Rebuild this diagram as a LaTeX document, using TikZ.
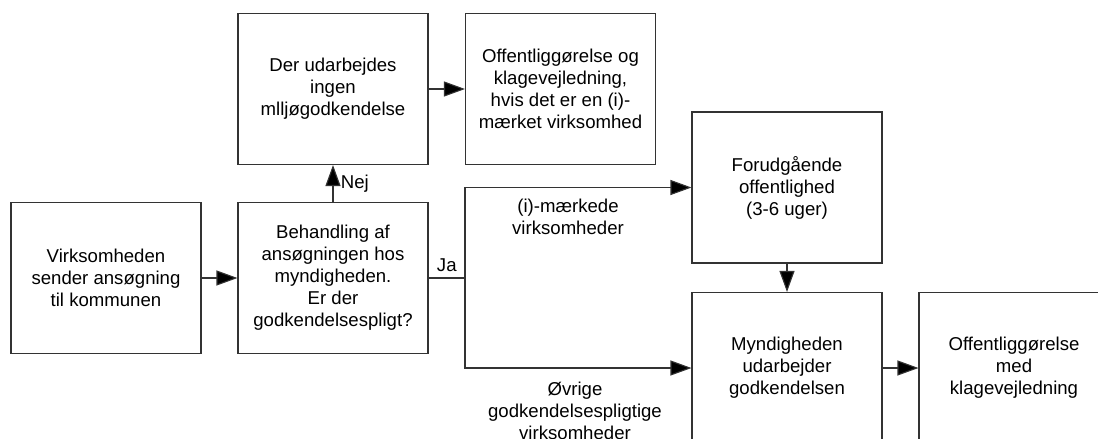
\documentclass[tikz,border=0pt]{standalone}
\usepackage{fontspec}
\setmainfont{Liberation Sans}
\usetikzlibrary{arrows.meta}
\begin{document}
\begin{tikzpicture}[x=1pt,y=-1pt,
  every node/.style={font=\fontsize{18.6}{22}\selectfont, align=center},
  stepbox/.style={draw=black!80, line width=1.1pt, minimum width=190pt, minimum height=151pt, inner sep=0pt},
  flow/.style={draw=black!80, line width=1.1pt, -{Triangle[length=21pt,width=15pt,fill=black]}},
  link/.style={draw=black!80, line width=1.1pt}]
\clip (0,0) rectangle (1098,439);
\useasboundingbox (0,0) rectangle (1098,439);
\fill[white] (0,0) rectangle (1098,439);

\node[stepbox] (start) at (106,278) {Virksomheden\\sender ansøgning\\til kommunen};
\node[stepbox] (review) at (333,278) {Behandling af\\ansøgningen hos\\myndigheden.\\Er der\\godkendelsespligt?};
\node[stepbox] (none) at (333,89) {Der udarbejdes\\ingen\\mlljøgodkendelse};
\node[stepbox] (notice) at (560.5,89) {Offentliggørelse og\\klagevejledning,\\hvis det er en (i)-\\mærket virksomhed};
\node[stepbox] (public) at (787,187.5) {Forudgående\\offentlighed\\(3-6 uger)};
\node[stepbox] (decide) at (787,368) {Myndigheden\\udarbejder\\godkendelsen};
\node[stepbox] (publish) at (1014,368) {Offentliggørelse\\med\\klagevejledning};

\coordinate (split) at (465,278);

\draw[flow] (start) -- (review);
\draw[flow] (review) -- (none) node[pos=0.5, right=4pt] {Nej};
\draw[flow] (none) -- (notice);
\draw[link] (review.east) -- (split) node[pos=0.5, above=2pt] {Ja};
\draw[flow] (split) |- (public.west);
\draw[flow] (split) |- (decide.west);
\draw[flow] (public) -- (decide);
\draw[flow] (decide) -- (publish);

\node (lbl1) at (568,217) {(i)-mærkede\\virksomheder};
\node (lbl2) at (575,411) {Øvrige\\godkendelsespligtige\\virksomheder};
\end{tikzpicture}
\end{document}
